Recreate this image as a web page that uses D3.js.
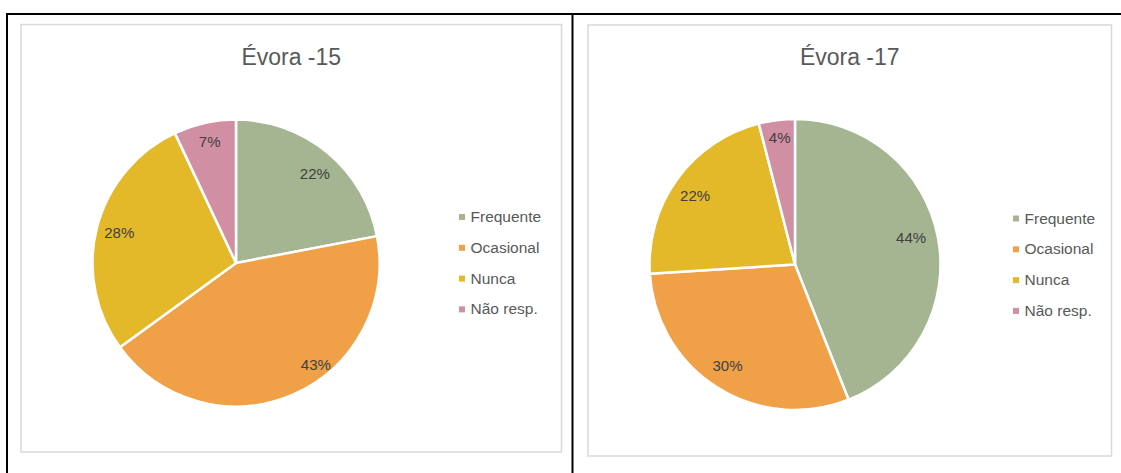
<!DOCTYPE html>
<html>
<head>
<meta charset="utf-8">
<script src="https://cdn.jsdelivr.net/npm/d3@7/dist/d3.min.js"></script>
<style>
  html, body { margin: 0; padding: 0; background: #fff; }
  svg { display: block; }
</style>
</head>
<body>
<svg id="chart" width="1121" height="473"></svg>
<script>
const categories = ["Frequente", "Ocasional", "Nunca", "Não resp."];
const colors = ["#a5b592", "#f0a148", "#e3b929", "#d08fa3"];
const titles = ["Évora -15", "Évora -17"];
const values15 = [22, 43, 28, 7];
const values17 = [44, 30, 22, 4];

const panels = [
  { title: titles[0], values: values15, box: [21, 24.5, 540.5, 427.5], cx: 236, cy: 263, r: 143.5, legX: 459, legY: 222,
    labelShift: [[2, 3], [32, -9], [0, 0], [0, -4]] },
  { title: titles[1], values: values17, box: [588, 25, 523.5, 431], cx: 795, cy: 264.5, r: 145.5, legX: 1013, legY: 223.5,
    labelShift: [[-4, -4], [-2, -2], [-1, 3], [0, -6]] }
];

const svg = d3.select("#chart");
svg.append("rect").attr("width", 1121).attr("height", 473).attr("fill", "#fff");

// table borders
svg.append("line").attr("x1", 6).attr("x2", 1121).attr("y1", 14).attr("y2", 14).attr("stroke", "#000").attr("stroke-width", 2);
svg.append("line").attr("x1", 7).attr("x2", 7).attr("y1", 13).attr("y2", 473).attr("stroke", "#000").attr("stroke-width", 2);
svg.append("line").attr("x1", 572.5).attr("x2", 572.5).attr("y1", 13).attr("y2", 473).attr("stroke", "#000").attr("stroke-width", 2);

const color = d3.scaleOrdinal().domain(categories).range(colors);
const pie = d3.pie().sort(null).value(d => d.v);

panels.forEach(p => {
  const g = svg.append("g");
  g.append("rect")
    .attr("x", p.box[0]).attr("y", p.box[1]).attr("width", p.box[2]).attr("height", p.box[3])
    .attr("fill", "#fff").attr("stroke", "#d9d9d9").attr("stroke-width", 1.5);

  g.append("text")
    .attr("x", p.box[0] + p.box[2] / 2).attr("y", 65)
    .attr("text-anchor", "middle")
    .attr("font-family", "'Liberation Sans', Arial, sans-serif")
    .attr("font-size", 23)
    .attr("fill", "#595959")
    .text(p.title);

  const data = categories.map((c, i) => ({ c, v: p.values[i] }));
  const arcs = pie(data);
  const arc = d3.arc().innerRadius(0).outerRadius(p.r);
  const labelArc = d3.arc().innerRadius(p.r * 0.84).outerRadius(p.r * 0.84);
  const pg = g.append("g").attr("transform", `translate(${p.cx},${p.cy})`);
  pg.selectAll("path").data(arcs).join("path")
    .attr("d", arc)
    .attr("fill", d => color(d.data.c))
    .attr("stroke", "#fff").attr("stroke-width", 2.5).attr("stroke-linejoin", "round");
  pg.selectAll("text").data(arcs).join("text")
    .attr("transform", (d, i) => {
      const c = labelArc.centroid(d);
      return `translate(${c[0] + p.labelShift[i][0]},${c[1] + p.labelShift[i][1]})`;
    })
    .attr("text-anchor", "middle").attr("dy", "0.36em")
    .attr("font-family", "'Liberation Sans', Arial, sans-serif")
    .attr("font-size", 15)
    .attr("fill", "#404040")
    .text(d => d.data.v + "%");

  const lg = g.append("g");
  categories.forEach((c, i) => {
    const y = p.legY + i * 30.8;
    lg.append("rect").attr("x", p.legX).attr("y", y - 8).attr("width", 6).attr("height", 6).attr("fill", color(c));
    lg.append("text").attr("x", p.legX + 11.5).attr("y", y)
      .attr("font-family", "'Liberation Sans', Arial, sans-serif")
      .attr("font-size", 15.5)
      .attr("fill", "#595959")
      .text(c);
  });
});
</script>
</body>
</html>
